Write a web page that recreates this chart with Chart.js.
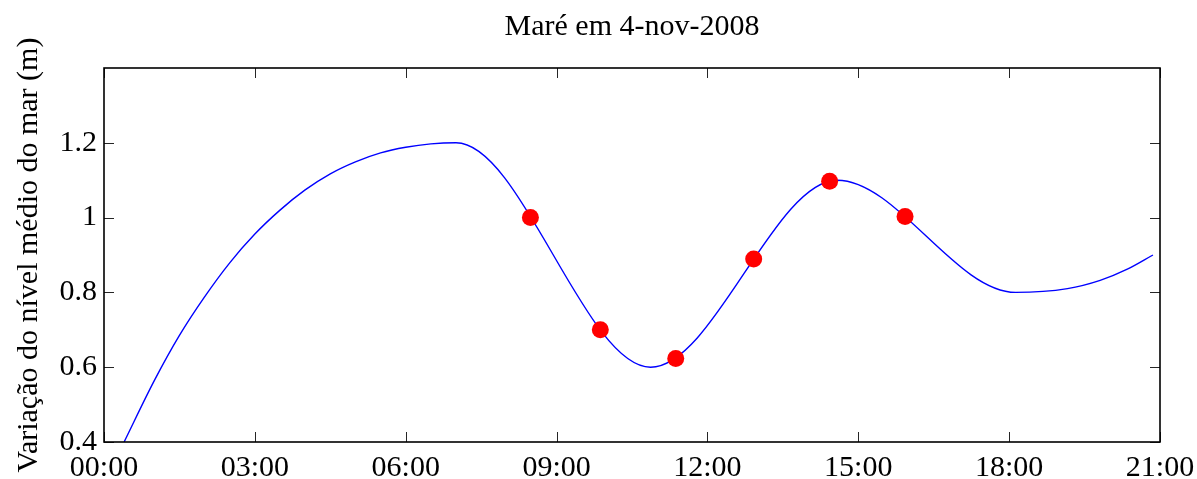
<!DOCTYPE html>
<html>
<head>
<meta charset="utf-8">
<script src="https://cdn.jsdelivr.net/npm/chart.js@4.4.1/dist/chart.umd.min.js"></script>
<style>
html,body{margin:0;padding:0;background:#fff;}
#wrap{width:1197px;height:479px;position:relative;}
</style>
</head>
<body>
<div id="wrap"><canvas id="c" width="1197" height="479"></canvas></div>
<script>
const chartTitle = 'Maré em 4-nov-2008';
const yAxisTitle = 'Variação do nível médio do mar (m)';

// tide curve (hours, metres): rising branch, then high/low waters, then the last rising branch
const curveHours  = [0.40, 1.0, 1.5, 2.0, 2.5, 3.0, 3.5, 4.0, 4.5, 5.0, 5.5, 6.0, 6.5, 7.0, 10.87, 14.58, 18.13, 19.16, 19.81, 20.35, 20.86];
const curveLevels = [0.400, 0.564, 0.685, 0.788, 0.879, 0.956, 1.020, 1.074, 1.117, 1.149, 1.173, 1.188, 1.197, 1.200, 0.600, 1.100, 0.800, 0.810, 0.832, 0.862, 0.900];

// red sample points
const sampleHours  = [8.48, 9.87, 11.37, 12.92, 14.43, 15.93];
const sampleLevels = [1.000, 0.700, 0.623, 0.889, 1.097, 1.003];

// ticks
const xTickValues = [0, 3, 6, 9, 12, 15, 18, 21];
const xTickLabels = ['00:00', '03:00', '06:00', '09:00', '12:00', '15:00', '18:00', '21:00'];
const yTickValues = [0.4, 0.6, 0.8, 1.0, 1.2];
const yTickLabels = ['0.4', '0.6', '0.8', '1', '1.2'];

const FONT = '"Liberation Serif", "Times New Roman", serif';

const curveData = curveHours.map((h, i) => ({x: h, y: curveLevels[i]}));
const sampleData = sampleHours.map((h, i) => ({x: h, y: sampleLevels[i]}));

const titleOverPlot = {
  id: 'titleOverPlot',
  afterLayout(chart) {
    const t = chart.titleBlock;
    if (t) { t.left = chart.chartArea.left; t.right = chart.chartArea.right; }
  }
};

const boxTicks = {
  id: 'boxTicks',
  afterDatasetsDraw(chart) {
    const {ctx, chartArea: a, scales: {x, y}} = chart;
    ctx.save();
    ctx.strokeStyle = '#262626';
    ctx.lineWidth = 1;
    ctx.beginPath();
    xTickValues.forEach(v => {
      const px = Math.round(x.getPixelForValue(v)) + 0.5;
      ctx.moveTo(px, a.bottom); ctx.lineTo(px, a.bottom - 10);
      ctx.moveTo(px, a.top); ctx.lineTo(px, a.top + 10);
    });
    yTickValues.forEach(v => {
      const py = Math.round(y.getPixelForValue(v)) + 0.5;
      ctx.moveTo(a.left, py); ctx.lineTo(a.left + 10, py);
      ctx.moveTo(a.right, py); ctx.lineTo(a.right - 10, py);
    });
    ctx.stroke();
    ctx.strokeStyle = '#000';
    ctx.lineWidth = 1.6;
    ctx.strokeRect(a.left, a.top, a.right - a.left, a.bottom - a.top);
    ctx.restore();
  }
};

new Chart(document.getElementById('c'), {
  type: 'scatter',
  data: {
    datasets: [
      {
        label: 'amostras',
        data: sampleData,
        showLine: false,
        pointRadius: 8.5,
        pointHoverRadius: 8.5,
        pointBackgroundColor: '#ff0000',
        pointBorderColor: '#ff0000',
        pointBorderWidth: 0,
        order: 0,
        clip: false
      },
      {
        label: 'maré',
        data: curveData,
        showLine: true,
        borderColor: '#0000ff',
        borderWidth: 1.4,
        pointRadius: 0,
        pointHoverRadius: 0,
        cubicInterpolationMode: 'monotone',
        order: 1,
        clip: 0
      }
    ]
  },
  options: {
    responsive: false,
    animation: false,
    devicePixelRatio: 1,
    layout: {padding: {left: 0, right: 37, top: 0, bottom: 0}},
    plugins: {
      legend: {display: false},
      tooltip: {enabled: false},
      title: {
        display: true,
        text: chartTitle,
        color: '#000',
        font: {family: FONT, size: 30, weight: 'normal', lineHeight: 1.2},
        padding: {top: 9, bottom: 23}
      }
    },
    scales: {
      x: {
        type: 'linear',
        min: 0,
        max: 21,
        afterFit(scale) { scale.height = 37; scale.paddingLeft = 0; scale.paddingRight = 0; },
        afterBuildTicks(scale) { scale.ticks = xTickValues.map(v => ({value: v})); },
        grid: {display: false, drawTicks: false},
        border: {display: false},
        ticks: {
          color: '#000',
          padding: 8,
          maxRotation: 0,
          autoSkip: false,
          font: {family: FONT, size: 30},
          callback(value) { const i = xTickValues.indexOf(value); return i >= 0 ? xTickLabels[i] : ''; }
        }
      },
      y: {
        type: 'linear',
        min: 0.4,
        max: 1.4,
        afterFit(scale) { scale.width = 104; },
        afterBuildTicks(scale) { scale.ticks = yTickValues.map(v => ({value: v})); },
        grid: {display: false, drawTicks: false},
        border: {display: false},
        title: {
          display: true,
          text: yAxisTitle,
          color: '#000',
          font: {family: FONT, size: 30, lineHeight: 1.2},
          padding: {top: 11, bottom: 0}
        },
        ticks: {
          color: '#000',
          padding: 7,
          autoSkip: false,
          font: {family: FONT, size: 30},
          callback(value) {
            const i = yTickValues.findIndex(v => Math.abs(v - value) < 1e-9);
            return i >= 0 ? yTickLabels[i] : '';
          }
        }
      }
    }
  },
  plugins: [titleOverPlot, boxTicks]
});
</script>
</body>
</html>
